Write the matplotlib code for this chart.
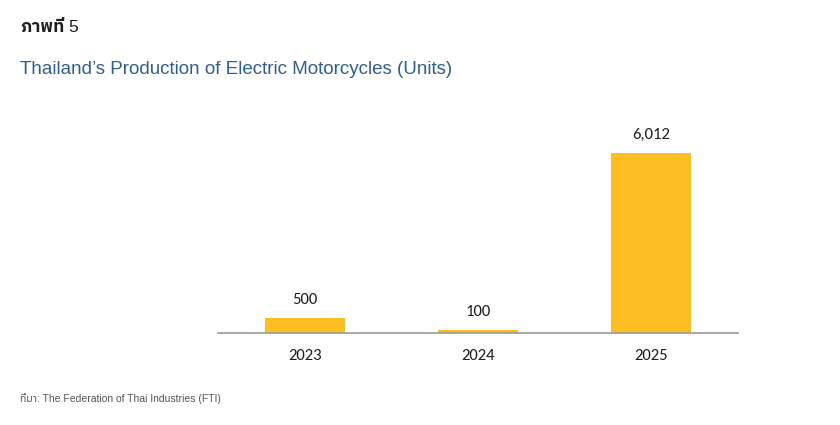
import matplotlib
matplotlib.use("Agg")
import matplotlib.pyplot as plt

years = ["2023", "2024", "2025"]
units = [500, 100, 6012]
value_labels = ["500", "100", "6,012"]

num_fam = ["Carlito", "Lato", "DejaVu Sans"]

fig = plt.figure(figsize=(8.4, 4.25), dpi=100)
ax = fig.add_axes([218/840, 1-333/425, 520/840, 0.493])

x = list(range(len(years)))
ax.bar(x, units, width=0.46, color="#FDBE22")
ax.set_xlim(-0.5, 2.5)
ax.set_ylim(0, 7000)
for xi, v, lab in zip(x, units, value_labels):
    ax.annotate(lab, (xi, v), xytext=(0, 8), textcoords="offset points",
                ha="center", va="bottom", fontsize=12, family=num_fam, color="#1E1E1E")

ax.set_xticks(x)
ax.set_xticklabels(years, fontsize=12, family=num_fam, color="#1E1E1E")
ax.tick_params(axis="x", length=0, pad=11.5)
ax.set_yticks([])
for s in ["top", "right", "left"]:
    ax.spines[s].set_visible(False)
ax.spines["bottom"].set_color("#9A9A9A")
ax.spines["bottom"].set_linewidth(1.2)

fam = ["Liberation Sans", "Noto Sans Thai", "DejaVu Sans"]
fig.text(20/840, 1-28/425, "ภาพที่", fontsize=12.5, fontweight="bold",
         family=["IBM Plex Sans Thai", "Noto Sans Thai", "DejaVu Sans"],
         color="#1E1E1E", va="center", ha="left")
fig.text(68/840, 1-28/425, "5", fontsize=12.5, family=fam,
         color="#1E1E1E", va="center", ha="left")
fig.text(20/840, 1-70/425, "Thailand’s Production of Electric Motorcycles (Units)",
         fontsize=13.5, family=fam, color="#2F5F8A", va="center", ha="left")
fig.text(20/840, 1-398/425, "ที่มา: The Federation of Thai Industries (FTI)",
         fontsize=7.5, family=fam, color="#555555", va="center", ha="left")

fig.savefig("out.png", dpi=100)
